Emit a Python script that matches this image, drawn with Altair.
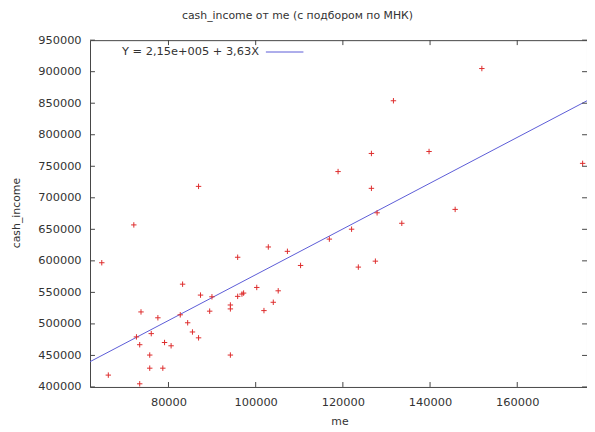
import altair as alt
import pandas as pd

# scatter data (me, cash_income)
me = [64700, 66200, 72050, 73400, 73700, 73400, 72650, 75700, 75700, 76050,
      77570, 78700, 79100, 80600, 82700, 83240, 84400, 85500, 86900, 87350,
      89970, 89450, 94200, 94200, 94200, 95870, 95870, 96850, 97230, 100250,
      101900, 102900, 104040, 105170, 107280, 110300, 116900, 122000, 123550, 127460,
      86900, 118900, 126550, 126550, 127850, 131600, 151880, 139770, 145760, 133520,
      175000]
cash_income = [597000, 418800, 657000, 405000, 519000, 467000, 479400, 429800, 450600, 484600,
               509700, 429800, 470500, 465300, 514400, 563000, 501800, 487200, 477900, 545700,
               543000, 520200, 450600, 530000, 523800, 605700, 543700, 547300, 548900, 557800,
               521100, 622000, 534300, 552500, 615100, 592700, 634500, 650200, 590100, 599500,
               718100, 741600, 770300, 715000, 676200, 853900, 905000, 773400, 681600, 659600,
               754600]

# fitted line end points (Y = 2,15e+005 + 3,63X)
fit_x = [62000, 176000]
fit_y = [440060, 853880]

x_ticks = [80000, 100000, 120000, 140000, 160000]
y_ticks = [400000, 450000, 500000, 550000, 600000, 650000, 700000, 750000, 800000, 850000, 900000, 950000]

title_text = "cash_income от me (с подбором по МНК)"
legend_text = "Y = 2,15e+005 + 3,63X"
x_title = "me"
y_title = "cash_income"

W, H = 503, 351
FONT = "DejaVu Sans"
TXT = "#333333"

pts = pd.DataFrame({"me": me, "cash_income": cash_income})
fit = pd.DataFrame({"me": fit_x, "cash_income": fit_y})
xt = pd.DataFrame({"me": x_ticks})
yt = pd.DataFrame({"cash_income": y_ticks})

xs = alt.Scale(domain=[62000, 176000], nice=False, zero=False)
ys = alt.Scale(domain=[400000, 950000], nice=False, zero=False)

XA = alt.Axis(values=x_ticks, format="d", ticks=False, domain=False, grid=False,
              labelFont=FONT, labelFontSize=11.5, labelColor=TXT, labelPadding=10,
              labelOverlap=False, title=None)
YA = alt.Axis(values=y_ticks, format="d", ticks=False, domain=False, grid=False,
              labelFont=FONT, labelFontSize=11.5, labelColor=TXT, labelPadding=9,
              labelOverlap=False, labelBound=False, title=None)


def X():
    return alt.X("me:Q", scale=xs, axis=XA)


def Y():
    return alt.Y("cash_income:Q", scale=ys, axis=YA)


fit_line = alt.Chart(fit).mark_line(color="#5a5ad6", strokeWidth=1, clip=True).encode(x=X(), y=Y())

points = alt.Chart(pts).mark_point(
    shape="M-1,0L1,0M0,-1L0,1", filled=False, color="#dd2c2c", size=30, strokeWidth=1, opacity=1
).encode(x=X(), y=Y())

tick_color = "#444444"
xb = alt.Chart(xt).mark_rule(color=tick_color, strokeWidth=1).encode(
    x=X(), y=alt.value(H), y2=alt.value(H - 5))
xtop = alt.Chart(xt).mark_rule(color=tick_color, strokeWidth=1).encode(
    x=X(), y=alt.value(0), y2=alt.value(5))
yl = alt.Chart(yt).mark_rule(color=tick_color, strokeWidth=1).encode(
    y=Y(), x=alt.value(0), x2=alt.value(5))
yr = alt.Chart(yt).mark_rule(color=tick_color, strokeWidth=1).encode(
    y=Y(), x=alt.value(W), x2=alt.value(W - 5))

title = alt.Chart(pd.DataFrame({"t": [title_text]})).mark_text(
    font=FONT, fontSize=11, color=TXT, align="center", baseline="alphabetic"
).encode(text="t:N", x=alt.value(210), y=alt.value(-21))

xtitle = alt.Chart(pd.DataFrame({"t": [x_title]})).mark_text(
    font=FONT, fontSize=11, color=TXT, align="center", baseline="alphabetic"
).encode(text="t:N", x=alt.value(253), y=alt.value(390))

ytitle = alt.Chart(pd.DataFrame({"t": [y_title]})).mark_text(
    font=FONT, fontSize=11, color=TXT, align="center", baseline="middle", angle=270
).encode(text="t:N", x=alt.value(-74), y=alt.value(175))

leg_text = alt.Chart(pd.DataFrame({"t": [legend_text]})).mark_text(
    font=FONT, fontSize=11.5, color=TXT, align="right", baseline="middle"
).encode(text="t:N", x=alt.value(171), y=alt.value(12))

leg_line = alt.Chart(pd.DataFrame({"t": [legend_text]})).mark_rule(
    color="#5a5ad6", strokeWidth=1
).encode(x=alt.value(178), x2=alt.value(216), y=alt.value(12))

chart = alt.layer(
    fit_line, points, xb, xtop, yl, yr, title, xtitle, ytitle, leg_text, leg_line
).properties(
    width=W, height=H,
    autosize=alt.AutoSizeParams(type="none"),
    padding={"left": 83, "top": 30, "right": 0, "bottom": 40},
    background="white",
).configure_view(stroke="#444444", strokeWidth=1)

chart.save("out.html", embed_options={"renderer": "svg", "actions": False})
